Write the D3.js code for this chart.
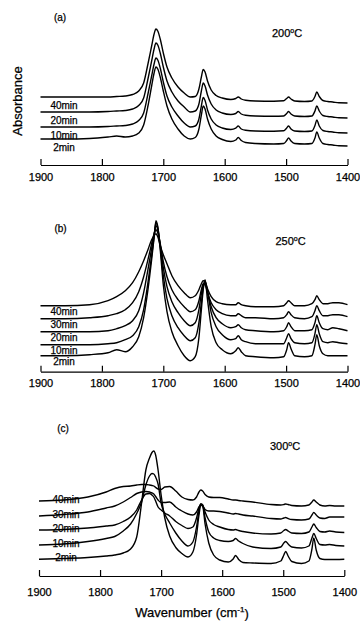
<!DOCTYPE html>
<html>
<head>
<meta charset="utf-8">
<script src="https://cdn.jsdelivr.net/npm/d3@7"></script>
<style>
  body { margin: 0; background: #fff; }
  svg { display: block; font-family: "Liberation Sans", Arial, Helvetica, sans-serif; }
  text { fill: #000; stroke: #000; stroke-width: 0.25px; }
</style>
</head>
<body>
<svg id="chart" width="360" height="621"></svg>
<script>
// shared wavenumber grid (cm-1)
const wavenumbers = [1900,1860,1820,1790,1776,1762,1750,1740,1732,1725,1719,1715,1712,1709,1705,1700,1694,1686,1676,1666,1656,1648,1642,1638,1635,1632,1628,1622,1614,1604,1590,1582,1578,1573,1566,1550,1520,1504,1499,1496,1492,1486,1470,1458,1453,1450,1446,1440,1432,1424,1414,1400];
const tickValues = [1900, 1800, 1700, 1600, 1500, 1400];
const panelNames = ['(a)', '(b)', '(c)'];
const temperatures = ['200', '250', '300'];
const timesA = ['40min', '20min', '10min', '2min'];
const timesBC = ['40min', '30min', '20min', '10min', '2min'];

// (a) 200 C, absorbance (offset, a.u.)
const a40 = [0.68,0.68,0.68,0.68,0.685,0.69,0.705,0.74,0.82,1.01,1.19,1.31,1.36,1.34,1.26,1.12,0.98,0.87,0.78,0.72,0.68,0.685,0.76,0.88,0.955,0.93,0.84,0.75,0.695,0.67,0.655,0.665,0.68,0.66,0.647,0.64,0.638,0.642,0.665,0.68,0.66,0.64,0.635,0.64,0.685,0.73,0.685,0.645,0.635,0.63,0.622,0.62];
const a20 = [0.53,0.53,0.53,0.535,0.54,0.545,0.56,0.595,0.67,0.86,1.04,1.16,1.22,1.20,1.12,0.98,0.84,0.73,0.64,0.58,0.53,0.54,0.61,0.74,0.82,0.79,0.70,0.61,0.55,0.52,0.505,0.515,0.535,0.51,0.497,0.49,0.488,0.49,0.515,0.535,0.51,0.49,0.485,0.49,0.54,0.59,0.54,0.495,0.485,0.48,0.472,0.47];
const a10 = [0.38,0.38,0.38,0.385,0.39,0.395,0.41,0.445,0.52,0.71,0.89,1.01,1.07,1.05,0.97,0.83,0.69,0.58,0.49,0.42,0.38,0.39,0.46,0.59,0.675,0.645,0.55,0.46,0.40,0.37,0.355,0.368,0.39,0.36,0.347,0.34,0.338,0.342,0.37,0.39,0.36,0.34,0.335,0.34,0.395,0.45,0.39,0.345,0.335,0.33,0.322,0.32];
const a2 = [0.26,0.26,0.265,0.28,0.29,0.28,0.29,0.32,0.40,0.59,0.79,0.92,0.98,0.96,0.88,0.74,0.59,0.46,0.36,0.29,0.26,0.275,0.36,0.50,0.59,0.56,0.46,0.36,0.29,0.255,0.235,0.25,0.275,0.245,0.225,0.215,0.21,0.215,0.245,0.27,0.24,0.215,0.21,0.215,0.27,0.33,0.27,0.215,0.205,0.2,0.192,0.19];

// (b) 250 C
const b40 = [0.66,0.66,0.67,0.71,0.75,0.81,0.89,1.00,1.11,1.22,1.32,1.36,1.38,1.35,1.26,1.17,1.08,0.96,0.86,0.79,0.74,0.76,0.82,0.88,0.91,0.90,0.83,0.75,0.70,0.68,0.67,0.67,0.69,0.67,0.66,0.65,0.65,0.66,0.69,0.71,0.69,0.66,0.66,0.68,0.72,0.76,0.72,0.68,0.68,0.69,0.69,0.67];
const b30 = [0.53,0.53,0.54,0.56,0.58,0.62,0.69,0.80,0.95,1.12,1.28,1.38,1.42,1.39,1.28,1.10,0.95,0.82,0.72,0.65,0.60,0.62,0.71,0.82,0.88,0.87,0.79,0.69,0.62,0.58,0.56,0.56,0.58,0.56,0.54,0.54,0.53,0.54,0.57,0.60,0.57,0.54,0.53,0.55,0.61,0.66,0.61,0.56,0.56,0.57,0.57,0.55];
const b20 = [0.40,0.40,0.40,0.41,0.43,0.46,0.51,0.61,0.79,1.02,1.23,1.37,1.46,1.42,1.27,1.04,0.85,0.70,0.59,0.51,0.46,0.49,0.62,0.78,0.87,0.89,0.80,0.65,0.54,0.48,0.44,0.45,0.47,0.44,0.42,0.41,0.40,0.41,0.45,0.49,0.45,0.41,0.41,0.42,0.49,0.56,0.49,0.43,0.42,0.44,0.43,0.41];
const b10 = [0.27,0.27,0.27,0.28,0.29,0.32,0.36,0.45,0.62,0.89,1.16,1.35,1.49,1.44,1.25,0.96,0.73,0.56,0.44,0.36,0.31,0.34,0.49,0.69,0.84,0.91,0.80,0.59,0.45,0.37,0.32,0.33,0.36,0.32,0.30,0.28,0.28,0.28,0.34,0.38,0.33,0.29,0.28,0.29,0.38,0.47,0.38,0.30,0.29,0.30,0.29,0.28];
const b2 = [0.16,0.16,0.17,0.19,0.22,0.20,0.25,0.35,0.54,0.82,1.12,1.34,1.51,1.45,1.22,0.87,0.60,0.40,0.26,0.16,0.11,0.15,0.34,0.62,0.82,0.92,0.72,0.45,0.29,0.22,0.18,0.21,0.24,0.20,0.16,0.15,0.14,0.15,0.22,0.29,0.23,0.16,0.15,0.16,0.27,0.37,0.26,0.18,0.16,0.16,0.16,0.16];

// (c) 300 C
const c40 = [0.75,0.76,0.79,0.84,0.875,0.895,0.90,0.91,0.915,0.915,0.91,0.905,0.90,0.885,0.87,0.865,0.89,0.895,0.85,0.79,0.765,0.76,0.79,0.84,0.86,0.85,0.815,0.79,0.785,0.785,0.77,0.76,0.76,0.755,0.75,0.74,0.715,0.71,0.715,0.72,0.715,0.705,0.70,0.71,0.74,0.76,0.74,0.71,0.70,0.705,0.70,0.70];
const c30 = [0.60,0.615,0.64,0.68,0.70,0.74,0.785,0.825,0.84,0.845,0.84,0.83,0.82,0.795,0.76,0.735,0.735,0.74,0.69,0.65,0.62,0.61,0.64,0.69,0.71,0.70,0.665,0.65,0.65,0.645,0.63,0.62,0.625,0.62,0.61,0.60,0.575,0.57,0.58,0.585,0.575,0.565,0.56,0.57,0.61,0.635,0.61,0.58,0.575,0.59,0.59,0.59];
const c20 = [0.46,0.465,0.48,0.50,0.51,0.545,0.59,0.66,0.76,0.82,0.825,0.81,0.79,0.75,0.69,0.66,0.63,0.60,0.545,0.505,0.475,0.49,0.58,0.68,0.72,0.71,0.64,0.56,0.515,0.49,0.465,0.46,0.465,0.455,0.445,0.43,0.42,0.43,0.455,0.465,0.45,0.43,0.425,0.44,0.49,0.52,0.485,0.445,0.44,0.45,0.44,0.435];
const c10 = [0.31,0.32,0.345,0.375,0.395,0.45,0.52,0.625,0.74,0.91,1.00,1.025,1.02,0.99,0.92,0.73,0.62,0.53,0.43,0.35,0.30,0.34,0.49,0.65,0.72,0.71,0.58,0.44,0.38,0.355,0.345,0.355,0.375,0.35,0.325,0.29,0.275,0.29,0.33,0.345,0.32,0.29,0.28,0.30,0.38,0.425,0.375,0.315,0.31,0.315,0.305,0.30];
const c2 = [0.167,0.175,0.185,0.20,0.21,0.23,0.27,0.39,0.73,1.06,1.18,1.235,1.25,1.21,1.06,0.81,0.58,0.40,0.285,0.225,0.19,0.24,0.41,0.61,0.71,0.70,0.52,0.33,0.21,0.16,0.14,0.17,0.205,0.165,0.135,0.13,0.125,0.15,0.21,0.245,0.20,0.145,0.125,0.15,0.27,0.38,0.26,0.175,0.165,0.165,0.165,0.167];

// layout of each panel (pixels)
const panels = [
  { name: panelNames[0], temp: temperatures[0], times: timesA, series: [a40, a20, a10, a2],
    axisY: 165, x0: 40.5, x1: 347.5, pad: 8, labelX: 64, labelDy: 8.5, namePos: [60, 17], tempPos: [287, 33] },
  { name: panelNames[1], temp: temperatures[1], times: timesBC, series: [b40, b30, b20, b10, b2],
    axisY: 371.7, x0: 40.5, x1: 347.5, pad: 8, labelX: 64, labelDy: 5.5, namePos: [60.5, 228], tempPos: [290.5, 241] },
  { name: panelNames[2], temp: temperatures[2], times: timesBC, series: [c40, c30, c20, c10, c2],
    axisY: 576, x0: 39, x1: 344.3, pad: 12, labelX: 66, labelDy: -1.5, namePos: [63, 428], tempPos: [285, 446] }
];

const svg = d3.select('#chart');
const font = '"Liberation Sans", Arial, Helvetica, sans-serif';

panels.forEach(p => {
  const x = d3.scaleLinear().domain([1900, 1400]).range([p.x0, p.x1]);
  const y = d3.scaleLinear().domain([0, 1]).range([p.axisY, p.axisY - 100]);
  const g = svg.append('g');

  const line = d3.line()
    .x(d => x(d[0]))
    .y(d => y(d[1]))
    .curve(d3.curveMonotoneX);

  p.series.forEach((vals, i) => {
    const pts = wavenumbers.map((w, k) => [w, vals[k]]);
    g.append('path')
      .datum(pts)
      .attr('fill', 'none')
      .attr('stroke', '#000')
      .attr('stroke-width', 1.4)
      .attr('stroke-linejoin', 'round')
      .attr('d', line);

    g.append('text')
      .attr('x', p.labelX)
      .attr('y', y(vals[0]) + p.labelDy)
      .attr('dy', '0.35em')
      .attr('text-anchor', 'middle')
      .attr('font-size', 10)
      .text(p.times[i]);
  });

  const axis = d3.axisBottom(x)
    .tickValues(tickValues)
    .tickSizeInner(-6)
    .tickSizeOuter(0)
    .tickPadding(p.pad)
    .tickFormat(d3.format('d'));

  const ax = g.append('g')
    .attr('transform', 'translate(0,' + p.axisY + ')')
    .call(axis)
    .attr('font-family', font)
    .attr('font-size', 11);
  ax.select('.domain').attr('stroke', '#000').attr('stroke-width', 1.2);
  ax.selectAll('.tick line').attr('stroke', '#000').attr('stroke-width', 1.2);
  ax.selectAll('.tick text').attr('fill', '#000');

  g.append('text')
    .attr('x', p.namePos[0])
    .attr('y', p.namePos[1])
    .attr('dy', '0.35em')
    .attr('text-anchor', 'middle')
    .attr('font-size', 10)
    .text(p.name);

  const t = g.append('text')
    .attr('x', p.tempPos[0])
    .attr('y', p.tempPos[1])
    .attr('dy', '0.35em')
    .attr('text-anchor', 'middle')
    .attr('font-size', 11);
  t.append('tspan').text(p.temp);
  t.append('tspan').attr('font-size', 7).attr('dy', '-0.55em').text('o');
  t.append('tspan').attr('dy', '0.4em').text('C');
});

svg.append('text')
  .attr('transform', 'translate(17,101) rotate(-90)')
  .attr('dy', '0.35em')
  .attr('text-anchor', 'middle')
  .attr('font-size', 13)
  .text('Absorbance');

const xt = svg.append('text')
  .attr('x', 192)
  .attr('y', 612)
  .attr('dy', '0.35em')
  .attr('text-anchor', 'middle')
  .attr('font-size', 13);
xt.append('tspan').text('Wavenumber (cm');
xt.append('tspan').attr('font-size', 8).attr('dy', '-0.6em').text('-1');
xt.append('tspan').attr('dy', '0.45em').text(')');
</script>
</body>
</html>
